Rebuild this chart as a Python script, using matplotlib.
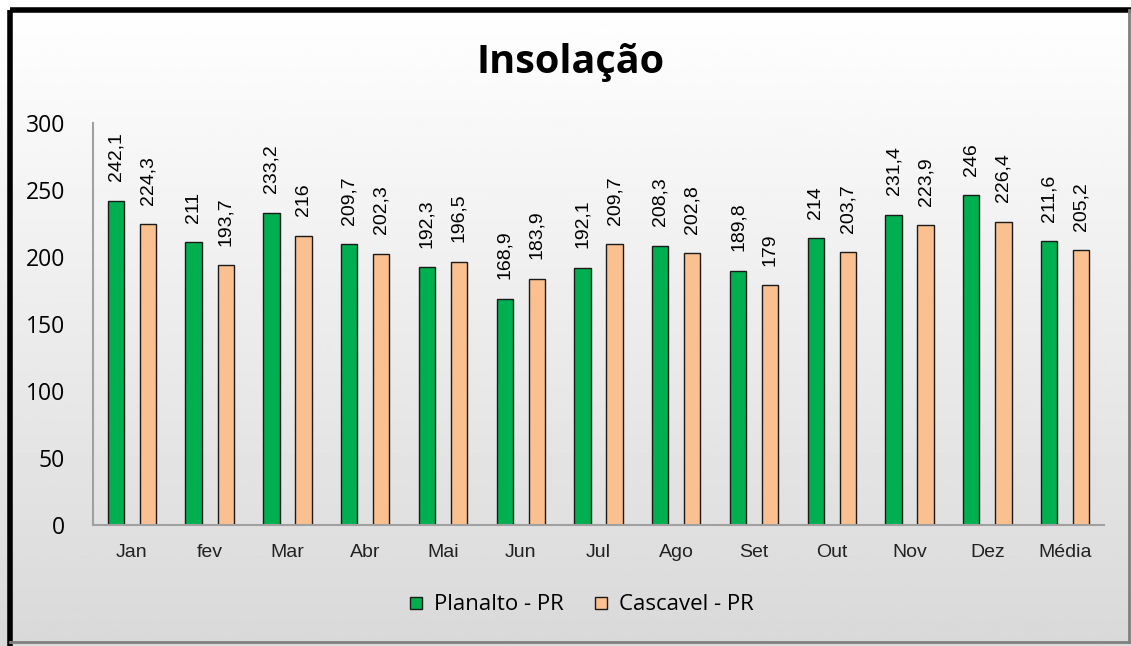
import numpy as np
from matplotlib import pyplot as plt
from matplotlib.lines import Line2D

meses = ["Jan", "fev", "Mar", "Abr", "Mai", "Jun", "Jul", "Ago", "Set", "Out", "Nov", "Dez", "Média"]
planalto = [242.1, 211, 233.2, 209.7, 192.3, 168.9, 192.1, 208.3, 189.8, 214, 231.4, 246, 211.6]
cascavel = [224.3, 193.7, 216, 202.3, 196.5, 183.9, 209.7, 202.8, 179, 203.7, 223.9, 226.4, 205.2]

VERDE = "#00B050"
PESSEGO = "#FAC090"

def fmt(v):
  s = ("%.1f" % v).replace(".", ",")
  if s.endswith(",0"):
    s = s[:-2]
  return s

fig = plt.figure(figsize=(11.31, 6.46), dpi=100)

# fundo em degradê (branco -> cinza)
bg = fig.add_axes([0, 0, 1, 1], zorder=-10)
grad = np.linspace(1.0, 0.85, 256).reshape(-1, 1)
bg.imshow(grad, cmap="gray", vmin=0, vmax=1, aspect="auto", extent=[0, 1, 0, 1])
bg.set_xlim(0, 1)
bg.set_ylim(0, 1)
bg.axis("off")
# moldura
W, H = 1131., 646.
bg.plot([9.5/W, 9.5/W], [0, 1 - 9.5/H], color="black", lw=4, solid_capstyle="butt")
bg.plot([9.5/W, 1], [1 - 9.5/H, 1 - 9.5/H], color="black", lw=4, solid_capstyle="butt")
bg.plot([9.5/W, 1], [1 - 642/H, 1 - 642/H], color="#808080", lw=2)
bg.plot([1129/W, 1129/W], [1 - 642/H, 1 - 9.5/H], color="#808080", lw=2)

ax = fig.add_axes([93/W, 1 - 525/H, (1104 - 93)/W, (525 - 123)/H])
ax.patch.set_alpha(0)

x = np.arange(len(meses))
off = 0.206
w = 0.21
b1 = ax.bar(x - off, planalto, w, color=VERDE, edgecolor="#1a1a1a", lw=1, label="Planalto - PR")
b2 = ax.bar(x + off, cascavel, w, color=PESSEGO, edgecolor="#1a1a1a", lw=1, label="Cascavel - PR")

for rects, vals in [(b1, planalto), (b2, cascavel)]:
  for r, v in zip(rects, vals):
    ax.annotate(fmt(v), (r.get_x() + r.get_width()/2, r.get_height()),
                xytext=(0, 14), textcoords="offset points", rotation=90,
                ha="center", va="bottom", fontsize=14, family="Liberation Sans")

ax.set_xlim(-0.5, len(meses) - 0.5)
ax.set_ylim(0, 300)
ax.set_yticks(range(0, 301, 50))
ax.set_xticks(x)
ax.set_xticklabels(meses, family="Liberation Sans", fontsize=14, color="#222222")
for t in ax.get_yticklabels():
  t.set_family("Open Sans")
  t.set_fontsize(16.5)
ax.tick_params(axis="y", length=0, pad=20)
ax.tick_params(axis="x", length=0, pad=14)
for s in ["top", "right"]:
  ax.spines[s].set_visible(False)
ax.spines["left"].set_color("#a0a0a0")
ax.spines["bottom"].set_color("#a0a0a0")
ax.spines["left"].set_linewidth(1.5)
ax.spines["bottom"].set_linewidth(1.5)

fig.text(571/W, 1 - 62/H, "Insolação", ha="center", va="center",
         fontsize=28.5, fontweight="bold", family="Open Sans")

handles = [Line2D([], [], marker="s", ls="", markersize=9, markerfacecolor=VERDE, markeredgecolor="#1a1a1a"),
           Line2D([], [], marker="s", ls="", markersize=9, markerfacecolor=PESSEGO, markeredgecolor="#1a1a1a")]
fig.legend(handles, ["Planalto - PR", "Cascavel - PR"], loc="center", bbox_to_anchor=(577/W, 1 - 605/H),
           ncol=2, frameon=False, handletextpad=0.1, columnspacing=1.0, handlelength=1.4,
           prop={"family": "Open Sans", "size": 16})

fig.savefig("out.png", dpi=100)
